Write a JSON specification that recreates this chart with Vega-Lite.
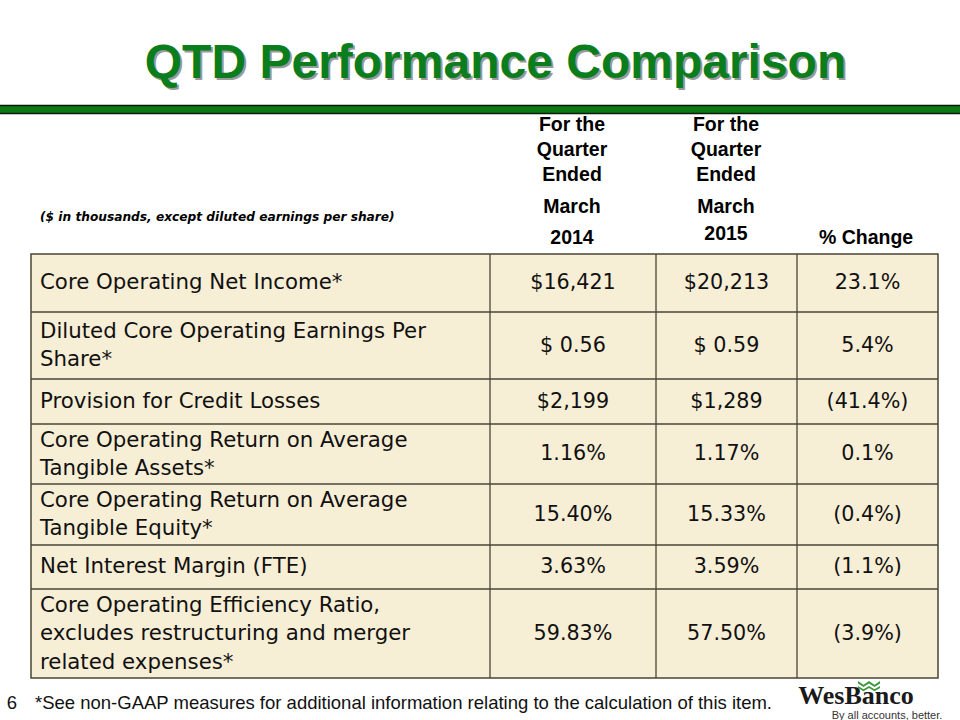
{
  "$schema": "https://vega.github.io/schema/vega-lite/v6.json",
  "width": 907,
  "height": 424,
  "autosize": {"type": "none"},
  "padding": {"left": 31, "top": 254, "right": 22, "bottom": 42},
  "background": "white",
  "config": {
    "view": {"fill": "#f7eed6", "stroke": "#4a4436", "strokeWidth": 1.5},
    "text": {"font": "DejaVu Sans"}
  },
  "datasets": {
    "cells": [
      {"row": 1, "col": 0, "text": "Core Operating Net Income*"},
      {"row": 1, "col": 1, "text": "$16,421"},
      {"row": 1, "col": 2, "text": "$20,213"},
      {"row": 1, "col": 3, "text": "23.1%"},
      {"row": 2, "col": 0, "text": "Diluted Core Operating Earnings Per\nShare*"},
      {"row": 2, "col": 1, "text": "$ 0.56"},
      {"row": 2, "col": 2, "text": "$ 0.59"},
      {"row": 2, "col": 3, "text": "5.4%"},
      {"row": 3, "col": 0, "text": "Provision for Credit Losses"},
      {"row": 3, "col": 1, "text": "$2,199"},
      {"row": 3, "col": 2, "text": "$1,289"},
      {"row": 3, "col": 3, "text": "(41.4%)"},
      {"row": 4, "col": 0, "text": "Core Operating Return on Average\nTangible Assets*"},
      {"row": 4, "col": 1, "text": "1.16%"},
      {"row": 4, "col": 2, "text": "1.17%"},
      {"row": 4, "col": 3, "text": "0.1%"},
      {"row": 5, "col": 0, "text": "Core Operating Return on Average\nTangible Equity*"},
      {"row": 5, "col": 1, "text": "15.40%"},
      {"row": 5, "col": 2, "text": "15.33%"},
      {"row": 5, "col": 3, "text": "(0.4%)"},
      {"row": 6, "col": 0, "text": "Net Interest Margin (FTE)"},
      {"row": 6, "col": 1, "text": "3.63%"},
      {"row": 6, "col": 2, "text": "3.59%"},
      {"row": 6, "col": 3, "text": "(1.1%)"},
      {"row": 7, "col": 0, "text": "Core Operating Efficiency Ratio,\nexcludes restructuring and merger\nrelated expenses*"},
      {"row": 7, "col": 1, "text": "59.83%"},
      {"row": 7, "col": 2, "text": "57.50%"},
      {"row": 7, "col": 3, "text": "(3.9%)"}
    ],
    "headers": [
      {"col": 1, "line": 1, "text": "For the\nQuarter\nEnded"},
      {"col": 1, "line": 2, "text": "March"},
      {"col": 1, "line": 5, "text": "2014"},
      {"col": 2, "line": 1, "text": "For the\nQuarter\nEnded"},
      {"col": 2, "line": 2, "text": "March"},
      {"col": 2, "line": 4, "text": "2015"},
      {"col": 3, "line": 5, "text": "% Change"},
      {"col": 0, "line": 3, "text": "($ in thousands, except diluted earnings per share)"}
    ],
    "edges": [
      {"axis": "row", "edge": 1}, {"axis": "row", "edge": 2}, {"axis": "row", "edge": 3},
      {"axis": "row", "edge": 4}, {"axis": "row", "edge": 5}, {"axis": "row", "edge": 6},
      {"axis": "col", "edge": 1}, {"axis": "col", "edge": 2}, {"axis": "col", "edge": 3}
    ],
    "slide": [
      {"part": "title", "text": "QTD Performance Comparison"},
      {"part": "bar", "from": "slide left", "to": "slide right"},
      {"part": "page", "text": "6"},
      {"part": "footnote", "text": "*See non-GAAP measures for additional information relating to the calculation of this item."},
      {"part": "brand", "text": "WesBanco"},
      {"part": "tagline", "text": "By all accounts, better."},
      {"part": "emblem"}
    ]
  },
  "resolve": {"scale": {"x": "independent", "y": "independent"}},
  "layer": [
    {
      "data": {"name": "edges"},
      "transform": [{"filter": "datum.axis === 'row'"}],
      "mark": {"type": "rule", "color": "#4a4436", "strokeWidth": 1.3},
      "encoding": {
        "y": {"field": "edge", "type": "quantitative", "axis": null,
              "scale": {"domain": [0, 1, 2, 3, 4, 5, 6, 7], "range": [0, 58, 125, 170, 230, 291, 335, 424], "nice": false, "zero": false}}
      }
    },
    {
      "data": {"name": "edges"},
      "transform": [{"filter": "datum.axis === 'col'"}],
      "mark": {"type": "rule", "color": "#4a4436", "strokeWidth": 1.3},
      "encoding": {
        "x": {"field": "edge", "type": "quantitative", "axis": null,
              "scale": {"domain": [0, 1, 2, 3, 4], "range": [0, 459, 625, 766, 907], "nice": false, "zero": false}}
      }
    },
    {
      "data": {"name": "cells"},
      "transform": [{"filter": "datum.col === 0"}],
      "mark": {"type": "text", "align": "left", "baseline": "middle", "fontSize": 21.3, "lineHeight": 28.5, "lineBreak": "\n", "color": "#111111"},
      "encoding": {
        "x": {"field": "col", "type": "quantitative", "axis": null,
              "scale": {"domain": [0, 1, 2, 3], "range": [9, 542, 695.5, 836.5], "nice": false, "zero": false}},
        "y": {"field": "row", "type": "quantitative", "axis": null,
              "scale": {"domain": [1, 2, 3, 4, 5, 6, 7], "range": [29, 77.5, 147.5, 186.5, 246.5, 313, 351.5], "nice": false, "zero": false}},
        "text": {"field": "text"}
      }
    },
    {
      "data": {"name": "cells"},
      "transform": [{"filter": "datum.col > 0"}],
      "mark": {"type": "text", "align": "center", "baseline": "middle", "fontSize": 20.7, "color": "#111111"},
      "encoding": {
        "x": {"field": "col", "type": "quantitative", "axis": null,
              "scale": {"domain": [0, 1, 2, 3], "range": [9, 542, 695.5, 836.5], "nice": false, "zero": false}},
        "y": {"field": "row", "type": "quantitative", "axis": null,
              "scale": {"domain": [1, 2, 3, 4, 5, 6, 7], "range": [29, 91.5, 147.5, 200, 260.5, 313, 379.5], "nice": false, "zero": false}},
        "text": {"field": "text"}
      }
    },
    {
      "data": {"name": "headers"},
      "transform": [{"filter": "datum.col > 0"}],
      "mark": {"type": "text", "align": "center", "baseline": "middle", "font": "Liberation Sans", "fontWeight": "bold", "fontSize": 19.5, "lineHeight": 25, "lineBreak": "\n", "color": "#000000"},
      "encoding": {
        "x": {"field": "col", "type": "quantitative", "axis": null,
              "scale": {"domain": [0, 1, 2, 3], "range": [9, 541, 695, 835], "nice": false, "zero": false}},
        "y": {"field": "line", "type": "quantitative", "axis": null,
              "scale": {"domain": [1, 2, 3, 4, 5], "range": [-129, -47, -37, -20, -16], "nice": false, "zero": false}},
        "text": {"field": "text"}
      }
    },
    {
      "data": {"name": "headers"},
      "transform": [{"filter": "datum.col === 0"}],
      "mark": {"type": "text", "align": "left", "baseline": "middle", "font": "DejaVu Sans", "fontWeight": "bold", "fontStyle": "italic", "fontSize": 12.2, "color": "#000000"},
      "encoding": {
        "x": {"field": "col", "type": "quantitative", "axis": null,
              "scale": {"domain": [0, 1, 2, 3], "range": [9, 541, 695, 835], "nice": false, "zero": false}},
        "y": {"field": "line", "type": "quantitative", "axis": null,
              "scale": {"domain": [1, 2, 3, 4, 5], "range": [-129, -47, -37, -20, -16], "nice": false, "zero": false}},
        "text": {"field": "text"}
      }
    },
    {
      "data": {"name": "slide"},
      "transform": [{"filter": "datum.part === 'bar'"}],
      "mark": {"type": "rule", "color": "#0a1a0a", "strokeWidth": 9.5, "strokeCap": "butt"},
      "encoding": {
        "x": {"field": "from", "type": "nominal", "axis": null, "scale": {"type": "point", "domain": ["slide left", "slide right"], "range": [-31, 929], "padding": 0}},
        "x2": {"field": "to"},
        "y": {"field": "part", "type": "nominal", "axis": null, "scale": {"type": "point", "range": [-144.5, -144.5]}}
      }
    },
    {
      "data": {"name": "slide"},
      "transform": [{"filter": "datum.part === 'bar'"}],
      "mark": {"type": "rule", "color": "#0b7a12", "strokeWidth": 6.5, "strokeCap": "butt"},
      "encoding": {
        "x": {"field": "from", "type": "nominal", "axis": null, "scale": {"type": "point", "domain": ["slide left", "slide right"], "range": [-31, 929], "padding": 0}},
        "x2": {"field": "to"},
        "y": {"field": "part", "type": "nominal", "axis": null, "scale": {"type": "point", "range": [-144.5, -144.5]}}
      }
    },
    {
      "data": {"name": "slide"},
      "transform": [{"filter": "datum.part === 'title'"}],
      "mark": {"type": "text", "align": "center", "baseline": "alphabetic", "font": "Liberation Sans", "fontWeight": "bold", "fontSize": 48, "color": "#9a9a9a", "dx": 2, "dy": 2},
      "encoding": {
        "x": {"field": "part", "type": "nominal", "axis": null, "scale": {"type": "point", "range": [464.5, 464.5]}},
        "y": {"field": "part", "type": "nominal", "axis": null, "scale": {"type": "point", "range": [-176, -176]}},
        "text": {"field": "text"}
      }
    },
    {
      "data": {"name": "slide"},
      "transform": [{"filter": "datum.part === 'title'"}],
      "mark": {"type": "text", "align": "center", "baseline": "alphabetic", "font": "Liberation Sans", "fontWeight": "bold", "fontSize": 48, "color": "#0a7d1c"},
      "encoding": {
        "x": {"field": "part", "type": "nominal", "axis": null, "scale": {"type": "point", "range": [464.5, 464.5]}},
        "y": {"field": "part", "type": "nominal", "axis": null, "scale": {"type": "point", "range": [-176, -176]}},
        "text": {"field": "text"}
      }
    },
    {
      "data": {"name": "slide"},
      "transform": [{"filter": "datum.part === 'page'"}],
      "mark": {"type": "text", "align": "center", "baseline": "middle", "font": "Liberation Sans", "fontSize": 18.5, "color": "#111111"},
      "encoding": {
        "x": {"field": "part", "type": "nominal", "axis": null, "scale": {"type": "point", "range": [-19, -19]}},
        "y": {"field": "part", "type": "nominal", "axis": null, "scale": {"type": "point", "range": [449, 449]}},
        "text": {"field": "text"}
      }
    },
    {
      "data": {"name": "slide"},
      "transform": [{"filter": "datum.part === 'footnote'"}],
      "mark": {"type": "text", "align": "left", "baseline": "middle", "font": "Liberation Sans", "fontSize": 18.5, "color": "#111111"},
      "encoding": {
        "x": {"field": "part", "type": "nominal", "axis": null, "scale": {"type": "point", "range": [4, 4]}},
        "y": {"field": "part", "type": "nominal", "axis": null, "scale": {"type": "point", "range": [449, 449]}},
        "text": {"field": "text"}
      }
    },
    {
      "data": {"name": "slide"},
      "transform": [{"filter": "datum.part === 'brand'"}],
      "mark": {"type": "text", "align": "center", "baseline": "alphabetic", "font": "Liberation Serif", "fontWeight": "bold", "fontSize": 26, "color": "#1a1a1a"},
      "encoding": {
        "x": {"field": "part", "type": "nominal", "axis": null, "scale": {"type": "point", "range": [825, 825]}},
        "y": {"field": "part", "type": "nominal", "axis": null, "scale": {"type": "point", "range": [450, 450]}},
        "text": {"field": "text"}
      }
    },
    {
      "data": {"name": "slide"},
      "transform": [{"filter": "datum.part === 'tagline'"}],
      "mark": {"type": "text", "align": "center", "baseline": "middle", "font": "Liberation Sans", "fontSize": 11, "color": "#333333"},
      "encoding": {
        "x": {"field": "part", "type": "nominal", "axis": null, "scale": {"type": "point", "range": [856, 856]}},
        "y": {"field": "part", "type": "nominal", "axis": null, "scale": {"type": "point", "range": [462, 462]}},
        "text": {"field": "text"}
      }
    },
    {
      "data": {"name": "slide"},
      "transform": [{"filter": "datum.part === 'emblem'"}],
      "mark": {"type": "point", "filled": true, "opacity": 1, "size": 484, "color": "#3c9a3c",
               "shape": "M-1,-0.45 L-0.5,-0.12 L0,-0.45 L0.5,-0.12 L1,-0.45 L1,-0.22 L0.5,0.1 L0,-0.22 L-0.5,0.1 L-1,-0.22 Z M-1,0 L-0.5,0.3 L0,0 L0.5,0.3 L1,0 L1,0.18 L0.5,0.48 L0,0.18 L-0.5,0.48 L-1,0.18 Z"},
      "encoding": {
        "x": {"field": "part", "type": "nominal", "axis": null, "scale": {"type": "point", "range": [838, 838]}},
        "y": {"field": "part", "type": "nominal", "axis": null, "scale": {"type": "point", "range": [432, 432]}}
      }
    }
  ]
}
